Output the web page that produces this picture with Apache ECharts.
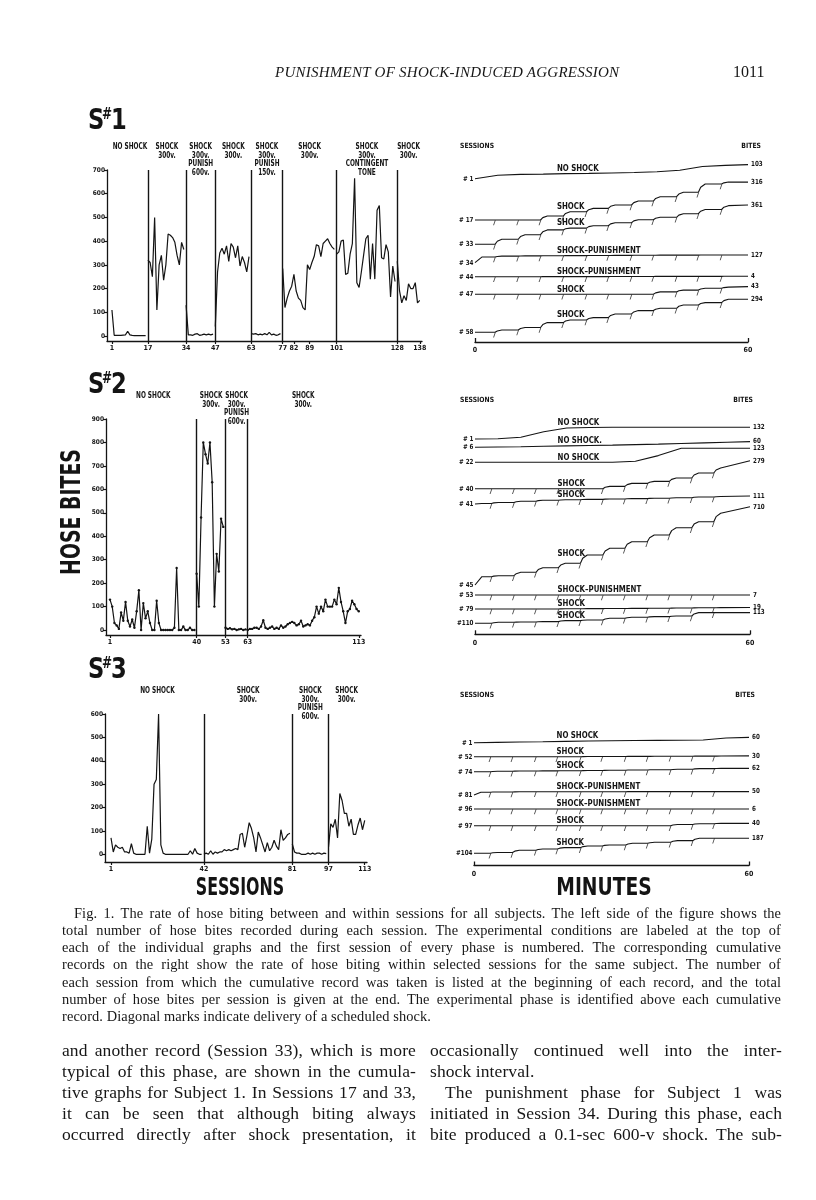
<!DOCTYPE html>
<html>
<head>
<meta charset="utf-8">
<title>Punishment of shock-induced aggression - Fig. 1</title>
<script src="https://cdn.jsdelivr.net/npm/echarts@6.0.0/dist/echarts.min.js"></script>
<style>
  body { margin: 0; background: #fff; }
  #page { position: relative; width: 816px; height: 1200px; overflow: hidden; background: #fff; }
  #chart { position: absolute; left: 0; top: 0; width: 816px; height: 1200px; }
  .serif { position: absolute; font-family: 'Liberation Serif', 'DejaVu Serif', serif; color: #161616; white-space: nowrap; }
  .head { font-size: 15px; font-style: italic; letter-spacing: 0.25px; line-height: 18px; }
  .cap { font-size: 14.4px; line-height: 17px; letter-spacing: 0.1px; }
  .body { font-size: 17.5px; line-height: 20px; letter-spacing: 0.1px; }
</style>
</head>
<body>
<div id="page">
  <div id="chart"></div>

  <div class="serif head" style="left:275px;top:63px">PUNISHMENT OF SHOCK-INDUCED AGGRESSION</div>
  <div class="serif" style="left:733px;top:63px;font-size:16px;line-height:18px">1011</div>

  <div class="serif cap just" data-w="707" style="left:74px;top:905px">Fig. 1. The rate of hose biting between and within sessions for all subjects. The left side of the figure shows the</div>
  <div class="serif cap just" data-w="719" style="left:62px;top:922px">total number of hose bites recorded during each session. The experimental conditions are labeled at the top of</div>
  <div class="serif cap just" data-w="719" style="left:62px;top:939px">each of the individual graphs and the first session of every phase is numbered. The corresponding cumulative</div>
  <div class="serif cap just" data-w="719" style="left:62px;top:956px">records on the right show the rate of hose biting within selected sessions for the same subject. The number of</div>
  <div class="serif cap just" data-w="719" style="left:62px;top:974px">each session from which the cumulative record was taken is listed at the beginning of each record, and the total</div>
  <div class="serif cap just" data-w="719" style="left:62px;top:991px">number of hose bites per session is given at the end. The experimental phase is identified above each cumulative</div>
  <div class="serif cap" style="left:62px;top:1008px">record. Diagonal marks indicate delivery of a scheduled shock.</div>

  <div class="serif body just" data-w="354" style="left:62px;top:1040px">and another record (Session 33), which is more</div>
  <div class="serif body just" data-w="354" style="left:62px;top:1061px">typical of this phase, are shown in the cumula-</div>
  <div class="serif body just" data-w="354" style="left:62px;top:1082px">tive graphs for Subject 1. In Sessions 17 and 33,</div>
  <div class="serif body just" data-w="354" style="left:62px;top:1103px">it can be seen that although biting always</div>
  <div class="serif body just" data-w="354" style="left:62px;top:1124px">occurred directly after shock presentation, it</div>

  <div class="serif body just" data-w="352" style="left:430px;top:1040px">occasionally continued well into the inter-</div>
  <div class="serif body" style="left:430px;top:1061px">shock interval.</div>
  <div class="serif body just" data-w="337" style="left:445px;top:1082px">The punishment phase for Subject 1 was</div>
  <div class="serif body just" data-w="352" style="left:430px;top:1103px">initiated in Session 34. During this phase, each</div>
  <div class="serif body just" data-w="352" style="left:430px;top:1124px">bite produced a 0.1-sec 600-v shock. The sub-</div>
</div>

<script>
// ---------- S#1 : hose bites per session (sessions 1..138) ----------
var s1Bites = [
  110, 3, 3, 3, 3, 4, 5, 20, 5, 3, 2, 2, 2, 2, 2, 2,                                   // 1-16 no shock
  320, 310, 250, 500, 110, 300, 340, 235, 300, 430, 425, 415, 395, 340, 300, 395, 365, // 17-33
  130, 5, 5, 3, 8, 10, 3, 5, 8, 5, 8, 5, 8,                                              // 34-46 punish 600v
  40, 270, 350, 370, 345, 380, 315, 390, 375, 330, 380, 295, 335, 310, 270, 335,         // 47-62
  10, 8, 10, 5, 8, 5, 10, 5, 15, 5, 8, 3, 5, 10,                                         // 63-76 punish 150v
  285, 120, 160, 190, 210, 260, 190, 160, 150, 120, 110, 300, 280, 310, 335, 385, 380, 335, 390, 400, 410, 390, 375, 365, // 77-100
  345, 355, 400, 405, 260, 265, 345, 390, 665, 225, 205, 270, 340, 410, 425, 240, 390, 240, 530, 550, 330, 325, 385, 355, 165, 295, 230, // 101-127 tone
  315, 190, 140, 170, 150, 220, 200, 200, 225, 140, 150                                  // 128-138
];
var s1PhaseStart = [1, 17, 34, 47, 63, 77, 101, 128];
var s1PhaseName = ['NO SHOCK', 'SHOCK\n300v.', 'SHOCK\n300v.\nPUNISH\n600v.', 'SHOCK\n300v.',
  'SHOCK\n300v.\nPUNISH\n150v.', 'SHOCK\n300v.', 'SHOCK\n300v.\nCONTINGENT\nTONE', 'SHOCK\n300v.'];
var s1SessionTicks = [1, 17, 34, 47, 63, 77, 82, 89, 101, 128, 138];
var s1BiteTicks = [0, 100, 200, 300, 400, 500, 600, 700];

// ---------- S#2 (sessions 1..113) ----------
var s2Bites = [
  130, 100, 30, 20, 5, 75, 40, 120, 40, 15, 45, 10, 80, 170, 0, 115, 50, 80, 30, 0,
  0, 125, 30, 0, 0, 0, 0, 0, 0, 10, 265, 0, 0, 15, 0, 0, 10, 0, 0,                      // 1-39
  240, 100, 480, 800, 750, 710, 800, 630, 100, 325, 250, 475, 440,                       // 40-52
  10, 5, 8, 3, 5, 0, 3, 5, 0, 3,                                                         // 53-62
  0, 5, 5, 10, 10, 5, 15, 42, 10, 5, 10, 15, 5, 10, 5, 20, 10, 15, 25, 30,
  35, 30, 20, 25, 40, 15, 20, 25, 20, 40, 55, 100, 70, 100, 80, 130, 100, 100, 100, 130,
  110, 180, 120, 80, 30, 80, 90, 125, 110, 90, 80                                        // 63-113
];
var s2PhaseStart = [1, 40, 53, 63];
var s2PhaseName = ['NO SHOCK', 'SHOCK\n300v.', 'SHOCK\n300v.\nPUNISH\n600v.', 'SHOCK\n300v.'];
var s2SessionTicks = [1, 40, 53, 63, 113];
var s2BiteTicks = [0, 100, 200, 300, 400, 500, 600, 700, 800, 900];

// ---------- S#3 (sessions 1..113) ----------
var s3Bites = [
  70, 10, 40, 30, 25, 30, 10, 10, 5, 45, 5, 0, 0, 0, 0, 0, 120, 5, 65, 300,
  320, 600, 40, 5, 0, 0, 0, 0, 0, 0, 0, 0, 0, 0, 0, 15, 0, 25, 5, 0, 0,                 // 1-41
  0, 5, 0, 15, 0, 10, 5, 10, 10, 20, 15, 20, 15, 20, 25, 20, 85, 90, 30, 80,
  135, 110, 70, 10, 95, 70, 40, 10, 50, 15, 30, 60, 35, 20, 105, 60, 70, 85, 90,        // 42-80
  45, 10, 5, 5, 0, 0, 0, 5, 0, 5, 0, 5, 5, 0, 5, 3,                                      // 81-96
  30, 130, 115, 150, 70, 260, 230, 175, 175, 120, 150, 85, 85, 125, 155, 105, 145       // 97-113
];
var s3PhaseStart = [1, 42, 81, 97];
var s3PhaseName = ['NO SHOCK', 'SHOCK\n300v.', 'SHOCK\n300v.\nPUNISH\n600v.', 'SHOCK\n300v.'];
var s3SessionTicks = [1, 42, 81, 97, 113];
var s3BiteTicks = [0, 100, 200, 300, 400, 500, 600];

// ---------- cumulative records (right side) ----------
// shock records: [after start burst, after each of the 11 shocks, at 60 min]
// no-shock records: values at 0, 5, 10 ... 60 min
var s1RecSession = [1, 17, 33, 34, 44, 47, 58];
var s1RecPhase = ['NO SHOCK', 'SHOCK', 'SHOCK', 'SHOCK\u2013PUNISHMENT', 'SHOCK\u2013PUNISHMENT', 'SHOCK', 'SHOCK'];
var s1RecTotal = [103, 316, 361, 127, 4, 43, 294];
var s1ShockMin = [4.4, 9.5, 14.4, 19.4, 24.5, 29.3, 34.4, 39.2, 44.3, 49.1, 54.2];
var s1RecCum = [
  [0, 29, 36, 38, 42, 44, 48, 52, 58, 71, 102, 111, 117],
  [0, 0, 0, 33, 69, 97, 125, 158, 194, 231, 300, 316, 316],
  [0, 42, 80, 120, 135, 155, 180, 205, 225, 255, 290, 322, 328],
  [47, 55, 57, 58, 59, 60, 61, 62, 63, 63, 64, 64, 64],
  [0, 0, 0, 1, 1, 1, 2, 2, 3, 3, 3, 4, 4],
  [0, 0, 0, 0, 0, 0, 0, 0, 20, 35, 50, 60, 64],
  [0, 19, 40, 81, 103, 122, 153, 181, 200, 228, 247, 275, 275]
];

var s2RecSession = [1, 6, 22, 40, 41, 45, 53, 79, 110];
var s2RecPhase = ['NO SHOCK', 'NO SHOCK.', 'NO SHOCK', 'SHOCK', 'SHOCK', 'SHOCK', 'SHOCK\u2013PUNISHMENT', 'SHOCK', 'SHOCK'];
var s2RecTotal = [132, 60, 123, 279, 111, 710, 7, 19, 113];
var s2ShockMin = [3.6, 8.5, 13.3, 18.2, 23.0, 27.9, 32.7, 37.6, 42.4, 47.3, 52.1];
var s2RecCum = [
  [0, 2, 17, 73, 110, 115, 117, 117, 117, 118, 118, 118, 118],
  [0, 3, 6, 10, 14, 18, 22, 27, 32, 38, 44, 50, 57],
  [0, 0, 0, 0, 0, 0, 0, 10, 67, 140, 140, 140, 140],
  [0, 0, 0, 0, 0, 0, 23, 53, 73, 107, 157, 207, 280],
  [5, 15, 28, 38, 42, 46, 50, 54, 57, 63, 70, 75, 80],
  [83, 93, 127, 173, 217, 300, 367, 433, 500, 573, 633, 717, 783],
  [0, 0, 0, 0, 0, 0, 0, 0, 0, 0, 0, 0, 0],
  [0, 0, 0, 0, 2, 4, 5, 6, 8, 10, 12, 14, 15],
  [0, 10, 13, 17, 27, 33, 50, 60, 67, 73, 107, 107, 107]
];

var s3RecSession = [1, 52, 74, 81, 96, 97, 104];
var s3RecPhase = ['NO SHOCK', 'SHOCK', 'SHOCK', 'SHOCK\u2013PUNISHMENT', 'SHOCK\u2013PUNISHMENT', 'SHOCK', 'SHOCK'];
var s3RecTotal = [60, 30, 62, 50, 6, 40, 187];
var s3ShockMin = [3.6, 8.4, 13.5, 18.2, 23.3, 28.0, 33.1, 37.9, 42.9, 47.7, 52.4];
var s3RecCum = [
  [0, 4, 8, 12, 17, 21, 25, 27, 29, 31, 33, 58, 66],
  [0, 0, 0, 0, 0, 2, 3, 4, 5, 6, 7, 8, 10],
  [0, 5, 8, 10, 12, 15, 18, 22, 25, 30, 38, 42, 42],
  [35, 38, 40, 40, 41, 41, 41, 42, 42, 42, 42, 42, 42],
  [0, 0, 0, 0, 0, 0, 0, 0, 0, 0, 0, 0, 0],
  [0, 0, 0, 0, 0, 0, 0, 0, 0, 15, 25, 29, 29],
  [0, 10, 38, 54, 71, 92, 104, 125, 138, 158, 188, 188, 188]
];

// ---------- layout (pixels) ----------
var panels = [
  { tag: '1', bites: s1Bites, phaseStart: s1PhaseStart, phaseName: s1PhaseName,
    sessionTicks: s1SessionTicks, biteTicks: s1BiteTicks, dots: false,
    left: { x: 107, y: 170, w: 315, h: 171 }, xRange: [-1.2, 139], yRange: [-21, 700],
    rec: { session: s1RecSession, phase: s1RecPhase, total: s1RecTotal, shockMin: s1ShockMin, cum: s1RecCum },
    right: { x: 475, y: 160, w: 273, h: 182 }, pxPerBite: 0.12,
    rows: [163.3, 122, 97.7, 79.3, 65.3, 47.7, 9.7],
    titleY: 121, headY: 146, bitesX: 761 },
  { tag: '2', bites: s2Bites, phaseStart: s2PhaseStart, phaseName: s2PhaseName,
    sessionTicks: s2SessionTicks, biteTicks: s2BiteTicks, dots: true,
    left: { x: 106, y: 419, w: 255, h: 216 }, xRange: [-0.8, 114], yRange: [-21, 900],
    rec: { session: s2RecSession, phase: s2RecPhase, total: s2RecTotal, shockMin: s2ShockMin, cum: s2RecCum },
    right: { x: 475, y: 415, w: 275, h: 219.3 }, pxPerBite: 0.1,
    rows: [195.3, 187, 172, 145.6, 130.3, 49.3, 39.3, 25.3, 11],
    titleY: 385, headY: 400, bitesX: 753 },
  { tag: '3', bites: s3Bites, phaseStart: s3PhaseStart, phaseName: s3PhaseName,
    sessionTicks: s3SessionTicks, biteTicks: s3BiteTicks, dots: false,
    left: { x: 105, y: 714, w: 262, h: 148 }, xRange: [-1.65, 114], yRange: [-33, 600],
    rec: { session: s3RecSession, phase: s3RecPhase, total: s3RecTotal, shockMin: s3ShockMin, cum: s3RecCum },
    right: { x: 474, y: 730, w: 275, h: 135.5 }, pxPerBite: 0.08,
    rows: [122.8, 108.8, 93.8, 70.5, 56.5, 39.8, 12.2],
    titleY: 670, headY: 695, bitesX: 755 }
];

var INK = '#141414';
var NARROW = "'Liberation Sans Narrow', 'DejaVu Sans Condensed', 'Liberation Sans', sans-serif";
var LAB = "'DejaVu Sans', 'Liberation Sans', sans-serif";
var TICK_MARK = 'path://M2,0 L3,0 L1,6 L0,6 Z';

// staircase for shock sessions, smooth samples otherwise
function recordPoints(cum, shockMin, hasShock) {
  var pts = [];
  if (!hasShock) {
    for (var i = 0; i < cum.length; i++) pts.push([i * 5, cum[i]]);
    return pts;
  }
  pts.push([0, 0]);
  pts.push([1.5, cum[0]]);
  for (var j = 0; j < shockMin.length; j++) {
    pts.push([shockMin[j], cum[j]]);
    pts.push([shockMin[j] + 0.5, cum[j] + (cum[j + 1] - cum[j]) * 0.6]);
    pts.push([shockMin[j] + 1.5, cum[j + 1]]);
  }
  pts.push([60, cum[12]]);
  return pts;
}
function valueAt(pts, t) {
  for (var i = 1; i < pts.length; i++) {
    if (t <= pts[i][0]) {
      var a = pts[i - 1], b = pts[i];
      var f = b[0] === a[0] ? 1 : (t - a[0]) / (b[0] - a[0]);
      return a[1] + (b[1] - a[1]) * f;
    }
  }
  return pts[pts.length - 1][1];
}

var chart = echarts.init(document.getElementById('chart'), null, { renderer: 'canvas' });

var grids = [], xAxes = [], yAxes = [], series = [];
var axisLine = { show: true, onZero: false, lineStyle: { color: INK, width: 1.3 } };

panels.forEach(function (p, pi) {
  var gl = pi * 2, gr = pi * 2 + 1;

  // left panel: bites per session
  grids.push({ left: p.left.x, top: p.left.y, width: p.left.w, height: p.left.h });
  xAxes.push({
    gridIndex: gl, type: 'value', min: p.xRange[0], max: p.xRange[1],
    axisLine: axisLine,
    axisTick: { show: true, customValues: p.sessionTicks, length: 3, lineStyle: { color: INK, width: 1.2 } },
    axisLabel: { show: true, customValues: p.sessionTicks, fontSize: 7, fontWeight: 'bold', fontFamily: NARROW, color: INK, margin: 4 },
    splitLine: { show: false }
  });
  yAxes.push({
    gridIndex: gl, type: 'value', min: p.yRange[0], max: p.yRange[1],
    axisLine: axisLine,
    axisTick: { show: true, customValues: p.biteTicks, length: 3, lineStyle: { color: INK, width: 1.2 } },
    axisLabel: { show: true, customValues: p.biteTicks, fontSize: 6.5, fontWeight: 'bold', fontFamily: NARROW, color: INK, margin: 2 },
    splitLine: { show: false }
  });
  for (var k = 0; k < p.phaseStart.length; k++) {
    var from = p.phaseStart[k];
    var to = k + 1 < p.phaseStart.length ? p.phaseStart[k + 1] - 1 : p.bites.length;
    var pts = [];
    for (var s = from; s <= to; s++) pts.push([s, p.bites[s - 1]]);
    var ser = {
      type: 'line', xAxisIndex: gl, yAxisIndex: gl, data: pts, silent: true,
      symbol: p.dots ? 'circle' : 'none', symbolSize: 2.4, showSymbol: p.dots,
      itemStyle: { color: INK }, lineStyle: { color: INK, width: 1.2 }
    };
    if (k === 0) {
      ser.markLine = {
        silent: true, symbol: 'none', label: { show: false },
        lineStyle: { color: INK, width: 1.4, type: 'solid' },
        data: p.phaseStart.slice(1).map(function (b) { return { xAxis: b }; })
      };
    }
    series.push(ser);
  }

  // right panel: cumulative records
  grids.push({ left: p.right.x, top: p.right.y, width: p.right.w, height: p.right.h });
  xAxes.push({
    gridIndex: gr, type: 'value', min: 0, max: 60,
    axisLine: axisLine,
    axisTick: { show: true, inside: true, customValues: [0, 60], length: 4, lineStyle: { color: INK, width: 1.3 } },
    axisLabel: { show: true, customValues: [0, 60], fontSize: 7, fontWeight: 'bold', fontFamily: NARROW, color: INK, margin: 5 },
    splitLine: { show: false }
  });
  yAxes.push({ gridIndex: gr, type: 'value', min: 0, max: p.right.h / p.pxPerBite, show: false });

  var rec = p.rec;
  rec.session.forEach(function (sess, r) {
    var base = p.rows[r] / p.pxPerBite;
    var shock = rec.phase[r].indexOf('NO') !== 0;
    var rp = recordPoints(rec.cum[r], rec.shockMin, shock);
    series.push({
      type: 'line', xAxisIndex: gr, yAxisIndex: gr, silent: true, symbol: 'none',
      data: rp.map(function (q) { return [q[0], base + q[1]]; }),
      lineStyle: { color: INK, width: 1.1 }
    });
    if (shock) {
      series.push({
        type: 'scatter', xAxisIndex: gr, yAxisIndex: gr, silent: true,
        symbol: TICK_MARK, symbolSize: [2.6, 5], symbolOffset: [-0.6, 2.8],
        itemStyle: { color: INK },
        data: rec.shockMin.map(function (m, j) { return [m, base + rec.cum[r][j]]; })
      });
    }
  });
});

chart.setOption({
  animation: false,
  backgroundColor: 'transparent',
  grid: grids, xAxis: xAxes, yAxis: yAxes, series: series
});

// ---------- labels placed through the axes ----------
function px(i, x, y) { return chart.convertToPixel({ xAxisIndex: i, yAxisIndex: i }, [x, y]); }
function label(x, y, text, size, sx, align, vAlign, extra) {
  var el = {
    type: 'text', x: x, y: y, scaleX: sx, silent: true,
    style: { text: text, fontSize: size, fontWeight: 'bold', fontFamily: LAB, fill: INK,
             align: align, verticalAlign: vAlign, lineHeight: size * 0.95 }
  };
  if (extra) for (var key in extra) el[key] = extra[key];
  return el;
}

var gfx = [];
panels.forEach(function (p, pi) {
  var gl = pi * 2, gr = pi * 2 + 1;

  // subject title S#n
  gfx.push(label(88, p.titleY, 'S', 29, 0.78, 'left', 'middle'));
  gfx.push(label(102, p.titleY - 6, '#', 15, 0.8, 'left', 'middle'));
  gfx.push(label(111, p.titleY, p.tag, 29, 0.78, 'left', 'middle'));

  // phase names above left panel
  for (var k = 0; k < p.phaseStart.length; k++) {
    var a = p.phaseStart[k];
    var b = k + 1 < p.phaseStart.length ? p.phaseStart[k + 1] : p.bites.length;
    var pt = px(gl, (a + b) / 2, p.yRange[1]);
    gfx.push(label(pt[0], pt[1] - 27, p.phaseName[k], 8.8, 0.66, 'center', 'top'));
  }

  // headings of right panel
  gfx.push(label(460, p.headY, 'SESSIONS', 7.2, 0.85, 'left', 'middle'));
  gfx.push(label(p.bitesX, p.headY, 'BITES', 7.2, 0.85, 'right', 'middle'));

  var rec = p.rec;
  var minPerPx = 60 / p.right.w;
  rec.session.forEach(function (sess, r) {
    var base = p.rows[r] / p.pxPerBite;
    var shock = rec.phase[r].indexOf('NO') !== 0;
    var rp = recordPoints(rec.cum[r], rec.shockMin, shock);
    var start = px(gr, 0, base);
    var end = px(gr, 60, base + rp[rp.length - 1][1]);
    gfx.push(label(start[0] - 1.5, start[1], (sess < 100 ? '# ' : '#') + sess, 7, 0.8, 'right', 'middle'));
    gfx.push(label(end[0] + 3, end[1], String(rec.total[r]), 7, 0.8, 'left', 'middle'));
    // phase name sits just above the record line
    var textW = rec.phase[r].length * 9 * 0.72 * 0.78;
    var t0 = 18, t1 = 18 + textW * minPerPx, vmax = 0;
    for (var t = t0; t <= t1; t += 0.5) vmax = Math.max(vmax, valueAt(rp, t));
    var lp = px(gr, t0, base + vmax);
    gfx.push(label(lp[0], lp[1] - 5, rec.phase[r], 9, 0.78, 'left', 'middle'));
  });
});

// axis names
gfx.push(label(73, 512, 'HOSE BITES', 27, 0.7, 'center', 'middle', { rotation: Math.PI / 2 }));
gfx.push(label(240, 889, 'SESSIONS', 24, 0.66, 'center', 'middle'));
gfx.push(label(604, 889, 'MINUTES', 24, 0.78, 'center', 'middle'));

chart.setOption({ graphic: gfx });

// ---------- justified text lines ----------
var lines = document.querySelectorAll('.just');
for (var i = 0; i < lines.length; i++) {
  var el = lines[i];
  var target = parseFloat(el.getAttribute('data-w'));
  var natural = el.getBoundingClientRect().width;
  var gaps = (el.textContent.match(/ /g) || []).length;
  if (gaps > 0) el.style.wordSpacing = ((target - natural) / gaps).toFixed(2) + 'px';
}

window.addEventListener('resize', function () { chart.resize(); });
</script>
</body>
</html>
